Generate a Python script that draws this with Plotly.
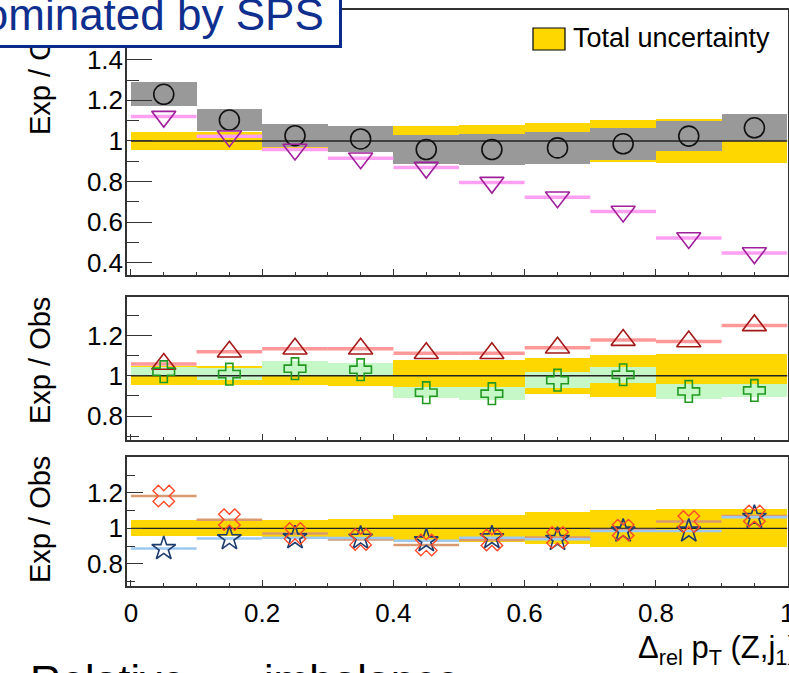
import plotly.graph_objects as go

# ---------------- data ----------------
bin_lo = [0.0, 0.1, 0.2, 0.3, 0.4, 0.5, 0.6, 0.7, 0.8, 0.9]
bin_hi = [0.1, 0.2, 0.3, 0.4, 0.5, 0.6, 0.7, 0.8, 0.9, 1.0]
bin_center = [0.05, 0.15, 0.25, 0.35, 0.45, 0.55, 0.65, 0.75, 0.85, 0.95]

# total (data) uncertainty band around unity
total_unc = [0.046, 0.046, 0.048, 0.053, 0.076, 0.077, 0.09, 0.104, 0.107, 0.107]

# top panel
circle_vals = [1.23, 1.103, 1.026, 1.01, 0.958, 0.958, 0.966, 0.986, 1.024, 1.065]
circle_err = [0.06, 0.053, 0.056, 0.062, 0.072, 0.078, 0.08, 0.078, 0.072, 0.067]
tridown_vals = [1.12, 1.023, 0.958, 0.915, 0.869, 0.795, 0.723, 0.653, 0.522, 0.448]

# middle panel
triup_vals = [1.058, 1.119, 1.134, 1.134, 1.112, 1.112, 1.139, 1.177, 1.17, 1.25]
cross_vals = [1.02, 1.008, 1.035, 1.03, 0.916, 0.911, 0.978, 1.005, 0.922, 0.927]
cross_err = [0.022, 0.03, 0.036, 0.033, 0.026, 0.031, 0.041, 0.04, 0.036, 0.031]

# bottom panel
xmark_vals = [1.182, 1.049, 0.971, 0.937, 0.906, 0.934, 0.948, 0.99, 1.039, 1.07]
star_vals = [0.886, 0.942, 0.947, 0.945, 0.93, 0.947, 0.938, 0.985, 0.985, 1.062]

x_ticks = [0, 0.2, 0.4, 0.6, 0.8, 1.0]
ratio_ticks = [0.8, 1.0, 1.2]

# ---------------- helpers ----------------
W, H = 789, 673


def px(x):
    return x / W


def py(y):
    return 1 - y / H


def steps(vals):
    """Horizontal segment per bin (gaps between bins)."""
    xs, ys = [], []
    for lo, hi, v in zip(bin_lo, bin_hi, vals):
        xs += [lo, hi, None]
        ys += [v, v, None]
    return xs, ys


FONT = "Liberation Sans, Arial, Helvetica, sans-serif"

fig = go.Figure()


def band(vals, errs, color, xa, ya):
    fig.add_trace(go.Bar(
        x=bin_center, y=[2 * e for e in errs], base=[v - e for v, e in zip(vals, errs)],
        width=0.1, marker=dict(color=color, line=dict(width=0)),
        xaxis=xa, yaxis=ya, showlegend=False, hoverinfo="skip"))


def seg(vals, color, width, xa, ya):
    xs, ys = steps(vals)
    fig.add_trace(go.Scatter(x=xs, y=ys, mode="lines",
                             line=dict(color=color, width=width),
                             xaxis=xa, yaxis=ya, showlegend=False, hoverinfo="skip"))


def unity(xa, ya):
    fig.add_trace(go.Scatter(x=[0, 1], y=[1, 1], mode="lines",
                             line=dict(color="#222222", width=1.4),
                             xaxis=xa, yaxis=ya, showlegend=False, hoverinfo="skip"))


def markers(vals, symbol, size, color, xa, ya, lw=1.6):
    fig.add_trace(go.Scatter(x=bin_center, y=vals, mode="markers",
                             marker=dict(symbol=symbol, size=size, color=color,
                                         line=dict(color=color, width=lw)),
                             xaxis=xa, yaxis=ya, showlegend=False, hoverinfo="skip"))


ones = [1.0] * 10
YELLOW = "#ffd700"

# top panel
band(ones, total_unc, YELLOW, "x", "y")
band(circle_vals, circle_err, "#999999", "x", "y")
unity("x", "y")
seg(tridown_vals, "#ffa0f2", 3.5, "x", "y")
markers(circle_vals, "circle-open", 20, "#111111", "x", "y")
markers(tridown_vals, "triangle-down-open", 21, "#a0209c", "x", "y")

# middle panel
band(ones, total_unc, YELLOW, "x2", "y2")
band(cross_vals, cross_err, "#c6f7c6", "x2", "y2")
unity("x2", "y2")
seg(triup_vals, "#ff9898", 3.5, "x2", "y2")
markers(triup_vals, "triangle-up-open", 21, "#a31818", "x2", "y2")
markers(cross_vals, "cross-open", 18, "#229a22", "x2", "y2")

# bottom panel
band(ones, total_unc, YELLOW, "x3", "y3")
unity("x3", "y3")
seg(xmark_vals, "#d99a70", 2.5, "x3", "y3")
seg(star_vals, "#9cc8f2", 2.5, "x3", "y3")
markers(star_vals, "star-open", 18, "#1e3d6e", "x3", "y3")
markers(xmark_vals, "x-open", 19, "#ff4a2a", "x3", "y3", lw=1.4)

# ---------------- axes ----------------
xdom = [px(127), px(788)]
xrange_ = [-0.006, 1.0012]
TICK_FONT = dict(family=FONT, size=26, color="black")


def xaxis(show_labels, anchor):
    return dict(domain=xdom, range=xrange_, tickmode="array", tickvals=x_ticks,
                ticks="inside", ticklen=6, tickwidth=1.2, tickcolor="#333",
                minor=dict(dtick=0.05, tick0=0, ticks="inside", ticklen=3,
                           tickwidth=1.0, tickcolor="#333"),
                showline=True, linecolor="#333", linewidth=1.5, mirror=True,
                showgrid=False, zeroline=False, showticklabels=show_labels,
                ticklabelstandoff=3, ticklabeloverflow="allow",
                automargin=False, anchor=anchor, tickfont=TICK_FONT)


def yaxis(dom, rng, tl, anchor, tickvals=None):
    d = dict(domain=dom, range=rng,
             ticks="inside", ticklen=tl, tickwidth=1.2, tickcolor="#333",
             minor=dict(dtick=0.1, tick0=0, ticks="inside", ticklen=tl / 2,
                        tickwidth=1.0, tickcolor="#333"),
             showline=True, linecolor="#333", linewidth=1.5, mirror=True,
             showgrid=False, zeroline=False, anchor=anchor,
             ticklabelstandoff=-3, ticklabeloverflow="allow", automargin=False,
             tickfont=TICK_FONT)
    if tickvals is None:
        d.update(tickmode="linear", tick0=0, dtick=0.2)
    else:
        d.update(tickmode="array", tickvals=tickvals)
    return d


fig.update_layout(
    template="none",
    width=W, height=H,
    margin=dict(l=0, r=0, t=0, b=0, pad=0, autoexpand=False),
    paper_bgcolor="white", plot_bgcolor="white",
    barmode="overlay", bargap=0,
    showlegend=False,
    xaxis=xaxis(False, "y"),
    xaxis2=xaxis(False, "y2"),
    xaxis3=xaxis(True, "y3"),
    yaxis=yaxis([py(275), py(10)], [0.34, 1.645], 25, "x"),
    yaxis2=yaxis([py(440), py(297)], [0.681, 1.391], 25, "x2", ratio_ticks),
    yaxis3=yaxis([py(586), py(457)], [0.675, 1.402], 16, "x3", ratio_ticks),
)

# legend entry for the total-uncertainty band
fig.add_shape(type="rect", xref="paper", yref="paper",
              x0=px(533), x1=px(565), y0=py(50), y1=py(28),
              fillcolor=YELLOW, line=dict(color="black", width=1.2))

ann = []
ann.append(dict(text="Total uncertainty", x=px(571), y=py(38), xanchor="left", yanchor="middle",
                font=dict(family=FONT, size=27, color="black")))

# y-axis titles (aligned to the top end of each ratio axis)
for yc in (72, 361, 520):
    ann.append(dict(text="Exp / Obs", textangle=-90, x=px(40), y=py(yc),
                    xanchor="center", yanchor="middle",
                    font=dict(family=FONT, size=29, color="black")))

# x-axis title
ann.append(dict(text="Δ<sub>rel</sub> p<sub>T</sub> (Z,j<sub>1</sub>)", x=px(800), y=py(650),
                xanchor="right", yanchor="middle",
                font=dict(family=FONT, size=31, color="black")))

# caption text below the frame
ann.append(dict(text="Relative", x=px(28), y=py(654), xanchor="left", yanchor="top",
                font=dict(family=FONT, size=43, color="black")))
ann.append(dict(text="imbalance", x=px(262), y=py(654), xanchor="left", yanchor="top",
                font=dict(family=FONT, size=43, color="black")))

# framed label box (drawn after the titles so it sits on top)
ann.append(dict(text=" ", x=px(342), y=py(48), xanchor="right", yanchor="bottom",
                width=352 - 6, height=70 - 6, bgcolor="white",
                bordercolor="#0b2a8c", borderwidth=3, borderpad=0))
ann.append(dict(text="Dominated by SPS", x=px(324), y=py(14), xanchor="right", yanchor="middle",
                font=dict(family=FONT, size=44, color="#0f2f8f"),
                borderpad=0, borderwidth=0))

for a in ann:
    a.setdefault("xref", "paper")
    a.setdefault("yref", "paper")
    a.setdefault("showarrow", False)
fig.update_layout(annotations=ann)

fig.write_html("out.html")
